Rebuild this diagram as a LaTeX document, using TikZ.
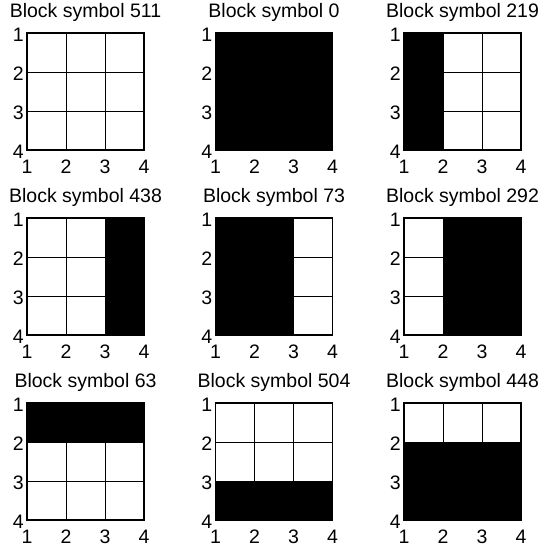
\documentclass[tikz,border=0pt]{standalone}
\usepackage{fontspec}
\setmainfont{Liberation Sans}

\begin{document}
\begin{tikzpicture}[x=1pt, y=-1pt, inner sep=0pt, font=\fontsize{19.5}{23}\selectfont]
  \useasboundingbox (0,0) rectangle (542,549);
  % col/row/number/black cells (corners in cell units)
  \foreach \col/\row/\num/\ax/\ay/\bx/\by [count=\i] in
    {0/0/511/0/0/0/0, 1/0/0/0/0/3/3, 2/0/219/0/0/1/3,
     0/1/438/2/0/3/3, 1/1/73/0/0/2/3, 2/1/292/1/0/3/3,
     0/2/63/0/0/3/1, 1/2/504/0/2/3/3, 2/2/448/0/1/3/3} {
    \coordinate (p\i) at (27+188.5*\col, 33+185*\row);
    \begin{scope}[shift={(p\i)}, x=39pt, y=-39pt]
      \fill (\ax,\ay) rectangle (\bx,\by);
      \foreach \g in {1,2} {
        \draw[line width=0.8pt] (\g,0) -- (\g,3);
        \draw[line width=0.8pt] (0,\g) -- (3,\g);
      }
      \draw[line width=1.2pt] (0,0) rectangle (3,3);
      \node[anchor=base] (title\i) at (1.5,-0.385) {Block symbol \num};
      \foreach \k in {1,...,4} {
        \node[anchor=east] (ylab\i-\k) at (-0.08,\k-1+0.05) {\k};
        \node[anchor=north] (xlab\i-\k) at (\k-1,3.26) {\k};
      }
    \end{scope}
  }
\end{tikzpicture}
\end{document}
